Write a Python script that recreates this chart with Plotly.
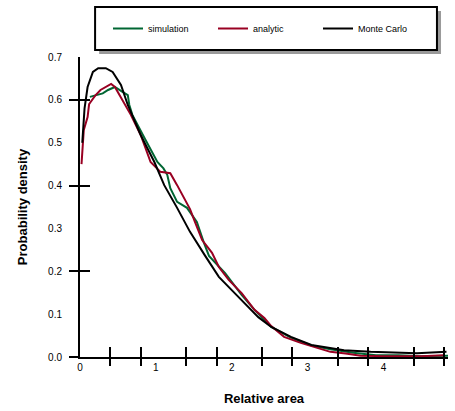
import plotly.graph_objects as go

# ---- data ----
mc_x = [0.03, 0.06, 0.10, 0.17, 0.24, 0.34, 0.43, 0.50, 0.54, 0.63, 0.80, 0.98, 1.11, 1.28,
        1.45, 1.65, 1.83, 2.00, 2.17, 2.35, 2.52, 2.78, 3.05, 3.48, 3.83, 4.44, 4.83]
mc_y = [0.50, 0.58, 0.63, 0.665, 0.674, 0.674, 0.665, 0.646, 0.635, 0.588, 0.518, 0.455, 0.401, 0.348,
        0.292, 0.236, 0.187, 0.156, 0.126, 0.093, 0.070, 0.047, 0.028, 0.016, 0.012, 0.009, 0.012]

red_x = [0.02, 0.05, 0.10, 0.12, 0.14, 0.20, 0.27, 0.34, 0.41, 0.46, 0.50, 0.59, 0.67, 0.80,
         0.93, 1.06, 1.12, 1.19, 1.28, 1.37, 1.45, 1.52, 1.61, 1.74, 1.83, 1.96, 2.13, 2.30,
         2.43, 2.52, 2.69, 2.91, 3.14, 3.30, 3.50, 3.70, 4.00, 4.50, 4.80]
red_y = [0.45, 0.53, 0.56, 0.59, 0.595, 0.61, 0.623, 0.63, 0.637, 0.63, 0.618, 0.588, 0.565, 0.518,
         0.455, 0.432, 0.430, 0.429, 0.401, 0.371, 0.345, 0.313, 0.273, 0.243, 0.210, 0.180, 0.149, 0.110,
         0.091, 0.072, 0.047, 0.033, 0.021, 0.012, 0.008, 0.003, 0.002, 0.002, 0.004]

grn_x = [0.13, 0.20, 0.30, 0.37, 0.46, 0.55, 0.63, 0.65, 0.69, 0.85, 1.02, 1.10, 1.15, 1.19,
         1.28, 1.41, 1.54, 1.63, 1.70, 1.91, 2.13, 2.30, 2.52, 2.78, 3.05, 3.30, 3.60, 3.90,
         4.20, 4.50, 4.85]
grn_y = [0.607, 0.611, 0.615, 0.623, 0.630, 0.620, 0.611, 0.588, 0.565, 0.511, 0.455, 0.440, 0.425, 0.394,
         0.362, 0.348, 0.315, 0.268, 0.236, 0.196, 0.145, 0.110, 0.070, 0.045, 0.027, 0.018, 0.010, 0.004,
         0.004, 0.002, 0.003]

series_names = ["simulation", "analytic", "Monte Carlo"]
x_ticklabels = [0, 1, 2, 3, 4]
y_ticklabels = [0.0, 0.1, 0.2, 0.3, 0.4, 0.5, 0.6, 0.7]
y_marks = [0.0, 0.2, 0.4, 0.6]
x_marks = [0.4, 0.8, 1.4, 1.8, 2.4, 2.8, 3.4, 3.8, 4.4, 4.8]

GREEN = "#006633"
RED = "#990022"
BLACK = "#000000"

fig = go.Figure()
fig.add_trace(go.Scatter(x=grn_x, y=grn_y, mode="lines", name=series_names[0],
                         line=dict(color=GREEN, width=2)))
fig.add_trace(go.Scatter(x=red_x, y=red_y, mode="lines", name=series_names[1],
                         line=dict(color=RED, width=2)))
fig.add_trace(go.Scatter(x=mc_x, y=mc_y, mode="lines", name=series_names[2],
                         line=dict(color=BLACK, width=2)))

XR = [0, 4.85]
YR = [0, 0.7]

fig.update_layout(
    width=455, height=411,
    margin=dict(l=80, r=7, t=57, b=54),
    paper_bgcolor="white", plot_bgcolor="white",
    font=dict(family="Liberation Sans, Arial, sans-serif", size=10, color="black"),
    showlegend=True,
    legend=dict(orientation="h", xref="container", yref="container",
                x=108 / 455, y=1 - 28.5 / 411, xanchor="left", yanchor="middle",
                bgcolor="rgba(0,0,0,0)", borderwidth=0,
                font=dict(size=9, color="black"), itemwidth=30,
                entrywidth=60, entrywidthmode="pixels"),
    xaxis=dict(range=XR, tickvals=x_ticklabels, ticktext=[str(v) for v in x_ticklabels],
               ticks="", showgrid=False, zeroline=False, showline=True, linecolor="black",
               linewidth=2, tickfont=dict(size=10, color="black"),
               title=dict(text="<b>Relative area</b>", font=dict(size=13), standoff=22)),
    yaxis=dict(range=YR, tickvals=y_ticklabels, ticktext=[f"{v:.1f}" for v in y_ticklabels],
               ticks="", showgrid=False, zeroline=False, showline=True, linecolor="black",
               linewidth=2, tickfont=dict(size=10, color="black"), ticklabelstandoff=14,
               title=dict(text="<b>Probability density</b>", font=dict(size=13), standoff=18)),
    xaxis2=dict(range=XR, overlaying="x", tickvals=x_marks, ticks="outside", ticklen=8,
                tickwidth=2, tickcolor="black", showticklabels=False, showgrid=False,
                zeroline=False, showline=False),
    xaxis3=dict(range=XR, overlaying="x", tickvals=x_marks, ticks="inside", ticklen=10,
                tickwidth=2, tickcolor="black", showticklabels=False, showgrid=False,
                zeroline=False, showline=False),
    yaxis2=dict(range=YR, overlaying="y", tickvals=y_marks, ticks="outside", ticklen=10,
                tickwidth=2, tickcolor="black", showticklabels=False, showgrid=False,
                zeroline=False, showline=False),
    yaxis3=dict(range=YR, overlaying="y", tickvals=y_marks, ticks="inside", ticklen=10,
                tickwidth=2, tickcolor="black", showticklabels=False, showgrid=False,
                zeroline=False, showline=False),
)

# invisible helper traces to activate the tick-mark overlay axes
fig.add_trace(go.Scatter(x=[None], y=[None], xaxis="x2", yaxis="y2", showlegend=False,
                         hoverinfo="skip"))
fig.add_trace(go.Scatter(x=[None], y=[None], xaxis="x3", yaxis="y3", showlegend=False,
                         hoverinfo="skip"))

# legend frame with drop shadow (paper-referenced decoration)
fig.add_shape(type="rect", xref="paper", yref="paper", x0=0.052, x1=0.981, y0=1.010, y1=1.153,
              fillcolor="#9a9a9a", line=dict(width=0), layer="below")
fig.add_shape(type="rect", xref="paper", yref="paper", x0=0.041, x1=0.970, y0=1.023, y1=1.167,
              fillcolor="white", line=dict(color="black", width=2), layer="below")

fig.write_html("out.html")
